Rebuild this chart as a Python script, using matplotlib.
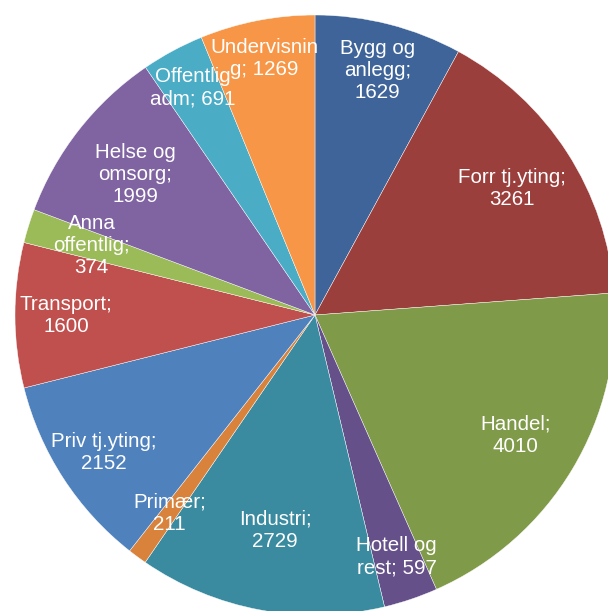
import matplotlib
matplotlib.use("Agg")
import matplotlib.pyplot as plt
import numpy as np

labels = ["Bygg og\nanlegg;\n1629", "Forr tj.yting;\n3261", "Handel;\n4010",
          "Hotell og\nrest; 597", "Industri;\n2729", "Primær;\n211",
          "Priv tj.yting;\n2152", "Transport;\n1600", "Anna\noffentlig;\n374",
          "Helse og\nomsorg;\n1999", "Offentlig\nadm; 691", "Undervisnin\ng; 1269"]
values = [1629, 3261, 4010, 597, 2729, 211, 2152, 1600, 374, 1999, 691, 1269]
colors = ["#3E6499", "#9B3F3D", "#7F9A48", "#65508A", "#3A8BA0", "#D9823B",
          "#4F81BD", "#C0504D", "#9BBB59", "#8064A2", "#4BACC6", "#F79646"]
# how far out each label sits (fraction of radius)
label_r = [0.84, 0.78, 0.78, 0.85, 0.73, 0.82, 0.84, 0.83, 0.78, 0.76, 0.86, 0.87]

plt.rcParams['font.family'] = ['Liberation Sans', 'DejaVu Sans']

fig = plt.figure(figsize=(6.08, 6.11), dpi=100)
# pie is 600 px wide, centred at (315, 315) px from top-left; it runs off the right/bottom
ax = fig.add_axes([15 / 608, -4 / 611, 600 / 608, 600 / 611])
wedges, texts = ax.pie(values, labels=labels, colors=colors, startangle=90,
                       counterclock=False, labeldistance=0.8, radius=1.0,
                       wedgeprops=dict(edgecolor="white", linewidth=0.3),
                       textprops=dict(color="white", fontsize=14.8, ha="center",
                                      va="center", multialignment="center",
                                      linespacing=1.2))
for t, r in zip(texts, label_r):
    x, y = t.get_position()
    a = np.arctan2(y, x)
    t.set_position((r * np.cos(a), r * np.sin(a)))
    t.set_ha("center")
    t.set_va("center")

ax.set_xlim(-1, 1)
ax.set_ylim(-1, 1)
ax.set_aspect("auto")
ax.axis("off")

fig.savefig("out.png", dpi=100)
